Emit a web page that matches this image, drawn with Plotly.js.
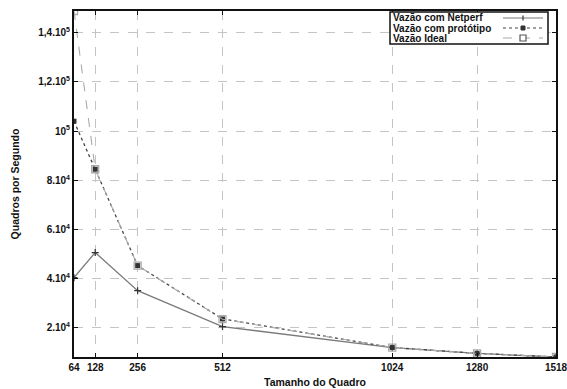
<!DOCTYPE html>
<html><head><meta charset="utf-8">
<script src="https://cdn.plot.ly/plotly-3.0.1.min.js"></script>
<style>html,body{margin:0;padding:0;background:#fff}#c{width:567px;height:389px}</style>
</head><body><div id="c"></div>
<script>
var frameSizes = [64, 128, 256, 512, 1024, 1280, 1518];
var netperf = [40400, 50600, 35100, 20500, 11900, 9600, 8127];
var prototipo = [104000, 84459, 45290, 23600, 11973, 9615, 8127];
var ideal = [148809, 84459, 45290, 23496, 11973, 9615, 8127];
var seriesNames = ['Vazão com Netperf', 'Vazão com protótipo', 'Vazão Ideal'];
var yTickVals = [20000, 40000, 60000, 80000, 100000, 120000, 140000];
var yTickText = ['2.10<sup>4</sup>', '4.10<sup>4</sup>', '6.10<sup>4</sup>', '8.10<sup>4</sup>', '10<sup>5</sup>', '1,2.10<sup>5</sup>', '1,4.10<sup>5</sup>'];
var xTickText = ['64', '128', '256', '512', '1024', '1280', '1518'];

var F = 'Liberation Sans, Arial, sans-serif';
var colors = ['#7a7a7a', '#444', '#aaa'];
var dashes = ['solid', 'dot', 'dash'];
var traces = [
  {x: frameSizes, y: netperf, name: seriesNames[0], mode: 'lines+markers',
   line: {color: colors[0], width: 1.3}, marker: {symbol: 'cross-thin', size: 5, line: {color: '#333', width: 1.2}}},
  {x: frameSizes, y: prototipo, name: seriesNames[1], mode: 'lines+markers',
   line: {color: colors[1], width: 1.3, dash: dashes[1]}, marker: {symbol: 'square', size: 5, color: '#333'}},
  {x: frameSizes, y: ideal, name: seriesNames[2], mode: 'lines+markers',
   line: {color: colors[2], width: 1.1, dash: dashes[2]}, marker: {symbol: 'square-open', size: 7, line: {color: '#555', width: 1.3}}}
];
var axisCommon = {
  showline: true, linecolor: '#111', linewidth: 2, mirror: 'ticks', ticks: 'inside', ticklen: 4, tickcolor: '#111',
  showgrid: true, gridcolor: '#c4c4c4', griddash: 'dash', gridwidth: 1, zeroline: false,
  tickfont: {family: F, size: 10, color: '#111', weight: 'bold'}
};

// Manual gnuplot-style legend (text left, sample right), in plot-area paper coords
var W = 482, H = 346;
function px(x) { return (x - 74) / W; }
function py(y) { return (357 - y) / H; }
var shapes = [{type: 'rect', xref: 'paper', yref: 'paper', x0: px(390), x1: px(548), y0: py(44), y1: py(12),
  line: {color: '#111', width: 1.5}, fillcolor: '#fff', layer: 'above'}];
var annotations = [];
var rowY = [18, 28, 38];
for (var i = 0; i < 3; i++) {
  annotations.push({xref: 'paper', yref: 'paper', x: px(391), y: py(rowY[i]), xanchor: 'left', yanchor: 'middle',
    text: seriesNames[i], showarrow: false, font: {family: F, size: 10, color: '#111', weight: 'bold'}});
  shapes.push({type: 'line', xref: 'paper', yref: 'paper', x0: px(503), x1: px(543), y0: py(rowY[i]), y1: py(rowY[i]),
    line: {color: colors[i], width: 1.1, dash: dashes[i]}, layer: 'above'});
}
var mx = 523;
// netperf cross
shapes.push({type: 'line', xref: 'paper', yref: 'paper', x0: px(mx), x1: px(mx), y0: py(rowY[0] - 2.5), y1: py(rowY[0] + 2.5), line: {color: '#333', width: 1.2}, layer: 'above'});
// prototipo filled square
shapes.push({type: 'rect', xref: 'paper', yref: 'paper', x0: px(mx - 2), x1: px(mx + 2), y0: py(rowY[1] + 2), y1: py(rowY[1] - 2), line: {color: '#333', width: 1}, fillcolor: '#333', layer: 'above'});
// ideal open square
shapes.push({type: 'rect', xref: 'paper', yref: 'paper', x0: px(mx - 3), x1: px(mx + 3), y0: py(rowY[2] + 3), y1: py(rowY[2] - 3), line: {color: '#555', width: 1.2}, fillcolor: '#fff', layer: 'above'});

var layout = {
  width: 567, height: 389, margin: {l: 74, r: 11, t: 11, b: 32},
  paper_bgcolor: '#fff', plot_bgcolor: '#fff', showlegend: false,
  xaxis: Object.assign({}, axisCommon, {range: [64, 1518], tickmode: 'array', tickvals: frameSizes, ticktext: xTickText,
    ticklabeloverflow: 'allow',
    title: {text: 'Tamanho do Quadro', font: {family: F, size: 10.5, color: '#111', weight: 'bold'}, standoff: 7}}),
  yaxis: Object.assign({}, axisCommon, {range: [8127, 148809], tickmode: 'array', tickvals: yTickVals, ticktext: yTickText,
    title: {text: 'Quadros por Segundo', font: {family: F, size: 10.5, color: '#111', weight: 'bold'}, standoff: 17}}),
  shapes: shapes, annotations: annotations,
  font: {family: F}
};
Plotly.newPlot('c', traces, layout, {staticPlot: true, displayModeBar: false});
</script></body></html>
